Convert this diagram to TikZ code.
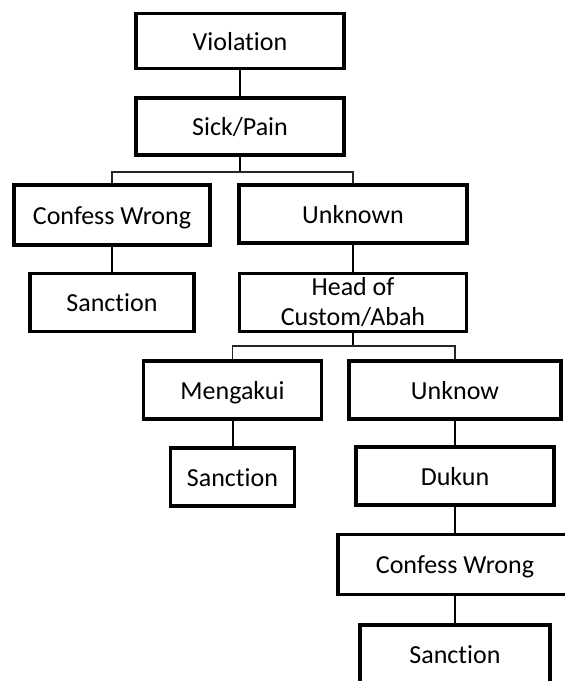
\documentclass[tikz,border=0pt]{standalone}
\usepackage{fontspec}
\setmainfont[Ligatures=NoCommon]{Carlito}
\usepackage{tikz}
\usetikzlibrary{calc}
\tikzstyle{bx} = [rectangle, draw, line width=3.5pt, inner sep=0pt, align=center, font=\fontsize{26}{30}\selectfont]
\tikzstyle{b} = [bx, text height=20pt, text depth=2pt]
\tikzstyle{c} = [line width=2pt]
\tikzstyle{br} = [line width=1.5pt, black!85]
\begin{document}
\begin{tikzpicture}[x=1pt,y=-1pt]
				\clip (0,0) rectangle (565,681);
				\node[b, minimum width=208pt, minimum height=55pt] (viol) at (240,41) {Violation};
				\node[b, minimum width=208pt, minimum height=57pt] (sick) at (240,126.5) {Sick/Pain};
				\node[b, minimum width=196pt, minimum height=60pt] (conf1) at (112,215) {Confess Wrong};
				\node[b, minimum width=228pt, minimum height=58pt] (unk) at (353,214) {Unknown};
				\node[b, minimum width=164pt, minimum height=58pt] (sanc1) at (112,302.5) {Sanction};
				\node[bx, minimum width=227pt, minimum height=58pt] (head) at (353,302.5) {Head of\\Custom/Abah};
				\node[b, minimum width=178pt, minimum height=58pt] (meng) at (232.5,390) {Mengakui};
				\node[b, minimum width=212pt, minimum height=58pt] (unkw) at (455,390) {Unknow};
				\node[b, minimum width=124pt, minimum height=58pt] (sanc2) at (232.5,477) {Sanction};
				\node[b, minimum width=198pt, minimum height=58pt] (dukun) at (455,476) {Dukun};
				\node[b, minimum width=234pt, minimum height=60pt] (conf2) at (455,564.5) {Confess Wrong};
				\node[b, minimum width=190pt, minimum height=58pt] (sanc3) at (455,654) {Sanction};
				\coordinate (b1) at (240,172);
				\coordinate (b2) at (353,346);
				%%%%%%%%%%%%%%%%%%%%%%%%%%%%%%%%%%
				\draw[c] (viol) -- (sick);
				\draw[c] (sick) -- (b1);
				\draw[br] (conf1) |- (b1) -| (unk);
				\draw[c] (conf1) -- (sanc1);
				\draw[c] (unk) -- (head);
				\draw[c] (head) -- (b2);
				\draw[br] (meng) |- (b2) -| (unkw);
				\draw[c] (meng) -- (sanc2);
				\draw[c] (unkw) -- (dukun);
				\draw[c] (dukun) -- (conf2);
				\draw[c] (conf2) -- (sanc3);
			\end{tikzpicture}
\end{document}
